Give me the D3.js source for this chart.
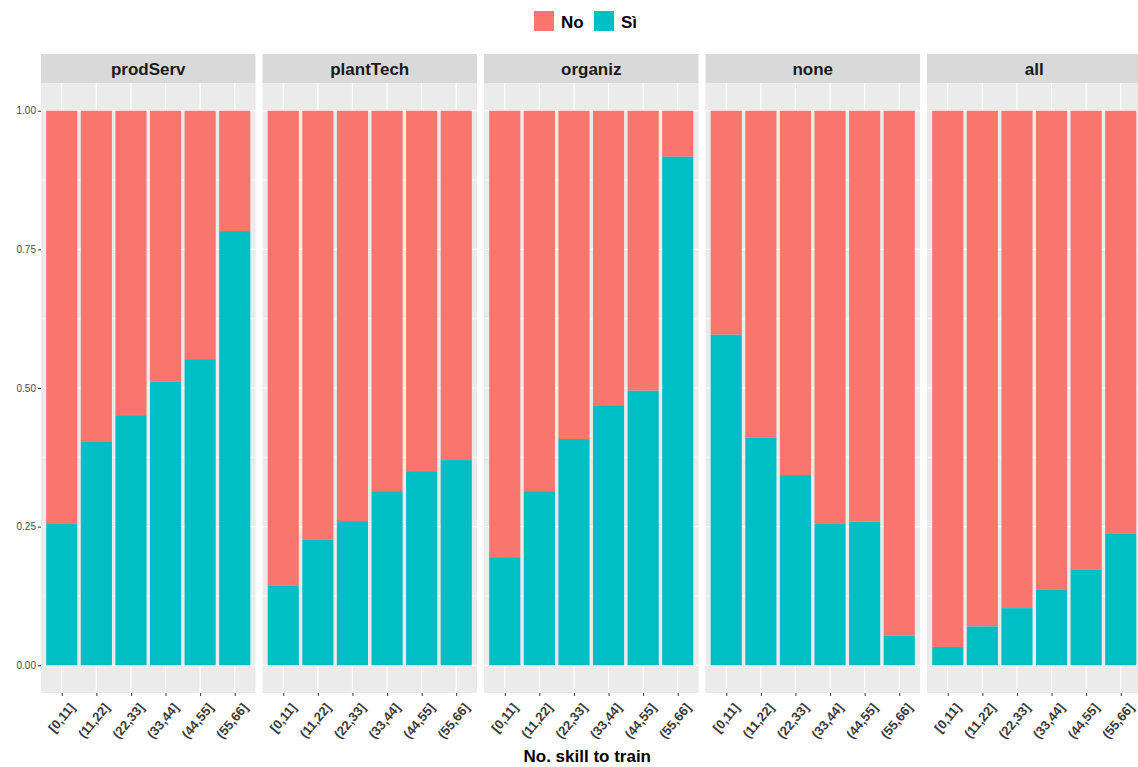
<!DOCTYPE html>
<html>
<head>
<meta charset="utf-8">
<script src="https://cdn.jsdelivr.net/npm/d3@7"></script>
<style>
  body { margin: 0; background: #fff; }
  svg { font-family: "Liberation Sans", Arial, sans-serif; }
</style>
</head>
<body>
<svg id="chart" width="1138" height="767"></svg>
<script>
// facets, x categories and share of "Sì" per bin
const facets = ['prodServ', 'plantTech', 'organiz', 'none', 'all'];
const bins = ['[0,11]', '(11,22]', '(22,33]', '(33,44]', '(44,55]', '(55,66]'];
const siProdServ = [0.256, 0.404, 0.451, 0.511, 0.552, 0.783];
const siPlantTech = [0.143, 0.227, 0.260, 0.314, 0.350, 0.370];
const siOrganiz = [0.195, 0.314, 0.408, 0.469, 0.495, 0.917];
const siNone = [0.596, 0.410, 0.343, 0.256, 0.259, 0.053];
const siAll = [0.033, 0.070, 0.103, 0.137, 0.173, 0.238];
const yTicks = [0, 0.25, 0.5, 0.75, 1];
const legendKeys = ['No', 'Sì'];

const siByFacet = [siProdServ, siPlantTech, siOrganiz, siNone, siAll];
const colors = { 'No': '#F8766D', 'Sì': '#00BFC4' };

const svg = d3.select('#chart');

const panelLeft = 41;     // left edge of first panel
const panelW = 214.5;
const panelGap = 7;
const stripTop = 54, stripH = 29;
const plotTop = 83, plotBottom = 693;

// y scale with ggplot's 5% expansion
const y = d3.scaleLinear().domain([-0.05, 1.05]).range([plotBottom, plotTop]);

// y axis labels + ticks (only once, at left)
const yAxis = d3.axisLeft(y).tickValues(yTicks).tickFormat(d3.format('.2f')).tickSize(3).tickPadding(2);
svg.append('g')
  .attr('transform', `translate(${panelLeft} 0)`)
  .call(yAxis)
  .call(g => g.select('.domain').remove())
  .call(g => g.selectAll('line').attr('stroke', '#333'))
  .call(g => g.selectAll('text').attr('fill', '#4d4d4d').style('font-size', '10px').style('font-family', '"Liberation Sans", Arial, sans-serif'));

facets.forEach((f, fi) => {
  const x0 = panelLeft + fi * (panelW + panelGap);
  // discrete scale with 0.6 unit expansion each side, like ggplot
  const xc = d3.scalePoint().domain(bins).range([x0, x0 + panelW]).padding(0.6);
  const barW = xc.step() * 0.9;
  const g = svg.append('g');

  // panel background
  g.append('rect').attr('x', x0).attr('y', plotTop).attr('width', panelW).attr('height', plotBottom - plotTop).attr('fill', '#ebebeb');

  // minor grid
  [0.125, 0.375, 0.625, 0.875].forEach(v => {
    g.append('line').attr('x1', x0).attr('x2', x0 + panelW).attr('y1', y(v)).attr('y2', y(v))
      .attr('stroke', '#fff').attr('stroke-width', 0.6);
  });
  // major grid
  yTicks.forEach(v => {
    g.append('line').attr('x1', x0).attr('x2', x0 + panelW).attr('y1', y(v)).attr('y2', y(v))
      .attr('stroke', '#fff').attr('stroke-width', 1.2);
  });
  bins.forEach(b => {
    g.append('line').attr('x1', xc(b)).attr('x2', xc(b)).attr('y1', plotTop).attr('y2', plotBottom)
      .attr('stroke', '#fff').attr('stroke-width', 1.2);
  });

  // stacked bars: Sì at bottom, No on top
  const vals = siByFacet[fi];
  g.selectAll('rect.no').data(bins).enter().append('rect')
    .attr('x', d => xc(d) - barW / 2).attr('width', barW)
    .attr('y', y(1)).attr('height', (d, i) => y(vals[i]) - y(1))
    .attr('fill', colors['No']);
  g.selectAll('rect.si').data(bins).enter().append('rect')
    .attr('x', d => xc(d) - barW / 2).attr('width', barW)
    .attr('y', (d, i) => y(vals[i])).attr('height', (d, i) => y(0) - y(vals[i]))
    .attr('fill', colors['Sì']);

  // strip
  g.append('rect').attr('x', x0).attr('y', stripTop).attr('width', panelW).attr('height', stripH).attr('fill', '#d9d9d9');
  g.append('text').attr('x', x0 + panelW / 2).attr('y', stripTop + stripH / 2 + 6)
    .attr('text-anchor', 'middle').attr('font-size', 17).attr('font-weight', 'bold').attr('fill', '#1a1a1a').text(f);

  // x axis
  const xAxis = d3.axisBottom(xc).tickSize(3).tickPadding(4);
  g.append('g').attr('transform', `translate(0 ${plotBottom})`).call(xAxis)
    .call(a => a.select('.domain').remove())
    .call(a => a.selectAll('line').attr('stroke', '#333'))
    .call(a => a.selectAll('text')
      .attr('fill', '#3a3a3a').style('font-size', '13px').style('font-weight', 'bold')
      .style('font-family', '"Liberation Sans", Arial, sans-serif')
      .attr('text-anchor', 'end').attr('dy', '0.35em').attr('x', 0).attr('y', 0)
      .attr('transform', 'translate(10 12) rotate(-50)'));
});

// axis title
svg.append('text').attr('x', panelLeft + (5 * panelW + 4 * panelGap) / 2 - 4).attr('y', 762)
  .attr('text-anchor', 'middle').attr('font-size', 17).attr('font-weight', 'bold').attr('fill', '#000')
  .text('No. skill to train');

// legend
const legend = svg.append('g');
const legendX = [534, 594];
legendKeys.forEach((k, i) => {
  legend.append('rect').attr('x', legendX[i]).attr('y', 11).attr('width', 20).attr('height', 20).attr('fill', colors[k]);
  legend.append('text').attr('x', legendX[i] + 27).attr('y', 28).attr('font-size', 17).attr('font-weight', 'bold').attr('fill', '#000').text(k);
});
</script>
</body>
</html>
